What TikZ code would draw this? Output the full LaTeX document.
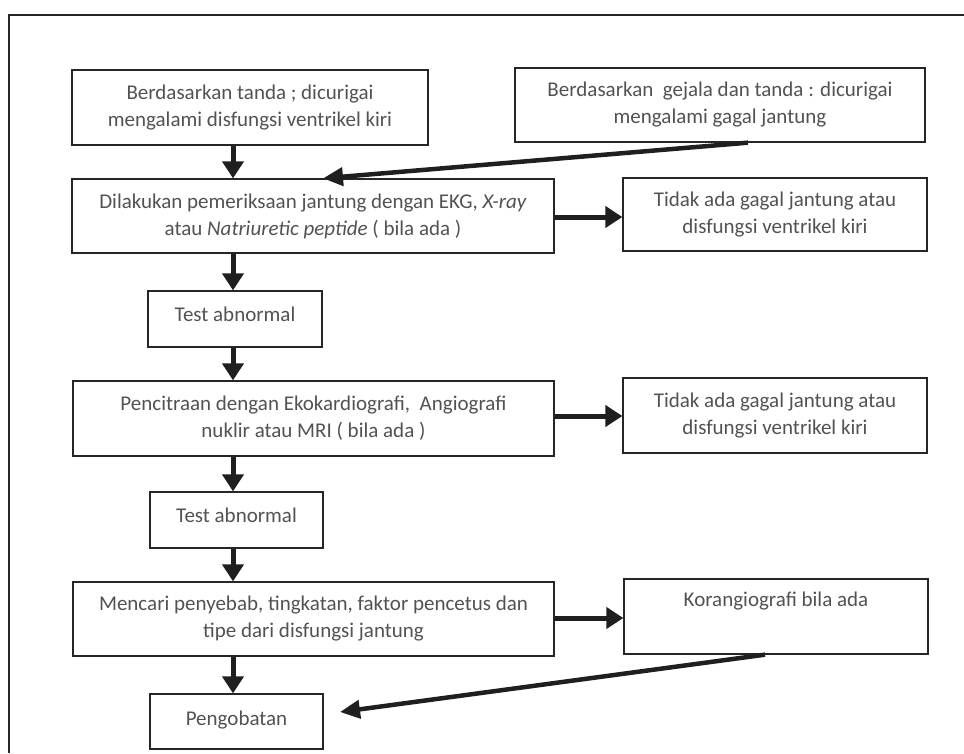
\documentclass[tikz,border=0pt]{standalone}
\usepackage{fontspec}
\setmainfont{Carlito}
\usetikzlibrary{arrows.meta}
\begin{document}
\begin{tikzpicture}[x=1pt,y=-1pt,
  box/.style={draw=black!85, line width=1.3pt, rectangle, inner sep=0pt, align=center,
    text=black!68, font=\fontsize{21}{27}\selectfont},
  arr/.style={line width=5pt, draw=black!88, -{Triangle[length=17pt,width=21pt]}},
  darr/.style={line width=4.5pt, draw=black!88, -{Triangle[length=20pt,width=18pt]}},
]
\useasboundingbox (0,0) rectangle (964,753);
\draw[line width=1.8pt, black!85] (9,753) -- (9,15) -- (964,15);

\node[box, minimum width=356pt, minimum height=75pt] (b1) at (250,107.5)
  {Berdasarkan tanda ; dicurigai\\mengalami disfungsi ventrikel kiri};
\node[box, minimum width=410pt, minimum height=74pt] (b2) at (720,105)
  {Berdasarkan\ \ gejala dan tanda : dicurigai\\mengalami gagal jantung};
\node[box, minimum width=482pt, minimum height=74pt] (b3) at (313,216)
  {Dilakukan pemeriksaan jantung dengan EKG, \textit{X-ray}\\atau \textit{Natriuretic peptide} ( bila ada )};
\node[box, minimum width=304pt, minimum height=73pt] (b4) at (775,214.5)
  {Tidak ada gagal jantung atau\\disfungsi ventrikel kiri};
\node[box, minimum width=174pt, minimum height=56pt, text depth=10pt] (b5) at (235,319)
  {Test abnormal};
\node[box, minimum width=481pt, minimum height=75pt] (b6) at (313.5,418.5)
  {Pencitraan dengan Ekokardiografi,\ \ Angiografi\\nuklir atau MRI ( bila ada )};
\node[box, minimum width=304pt, minimum height=75pt] (b7) at (775,415.5)
  {Tidak ada gagal jantung atau\\disfungsi ventrikel kiri};
\node[box, minimum width=173pt, minimum height=56pt, text depth=10pt] (b8) at (236.5,520)
  {Test abnormal};
\node[box, minimum width=481pt, minimum height=74pt] (b9) at (313.5,619)
  {Mencari penyebab, tingkatan, faktor pencetus dan\\tipe dari disfungsi jantung};
\node[box, minimum width=304pt, minimum height=75pt] (b10) at (776,616.5)
  {Korangiografi bila ada\\\strut};
\node[box, minimum width=173pt, minimum height=55pt, text depth=6pt] (b11) at (236.5,721.5)
  {Pengobatan};

\coordinate (ax) at (233,0);
\coordinate (d1s) at (748,0);
\coordinate (d1e) at (323,0);
\coordinate (d2s) at (765,0);
\coordinate (d2e) at (340,712);
\coordinate (h1) at (0,217);
\coordinate (h2) at (0,416);
\coordinate (h3) at (0,618);

\draw[arr] (b1.south -| ax) -- (b3.north -| ax);
\draw[arr] (b3.south -| ax) -- (b5.north -| ax);
\draw[arr] (b5.south -| ax) -- (b6.north -| ax);
\draw[arr] (b6.south -| ax) -- (b8.north -| ax);
\draw[arr] (b8.south -| ax) -- (b9.north -| ax);
\draw[arr] (b9.south -| ax) -- (b11.north -| ax);

\draw[arr] (b3.east |- h1) -- (b4.west |- h1);
\draw[arr] (b6.east |- h2) -- (b7.west |- h2);
\draw[arr] (b9.east |- h3) -- (b10.west |- h3);

\draw[darr] (b2.south -| d1s) -- (b3.north -| d1e);
\draw[darr] (b10.south -| d2s) -- (d2e);
\end{tikzpicture}
\end{document}
